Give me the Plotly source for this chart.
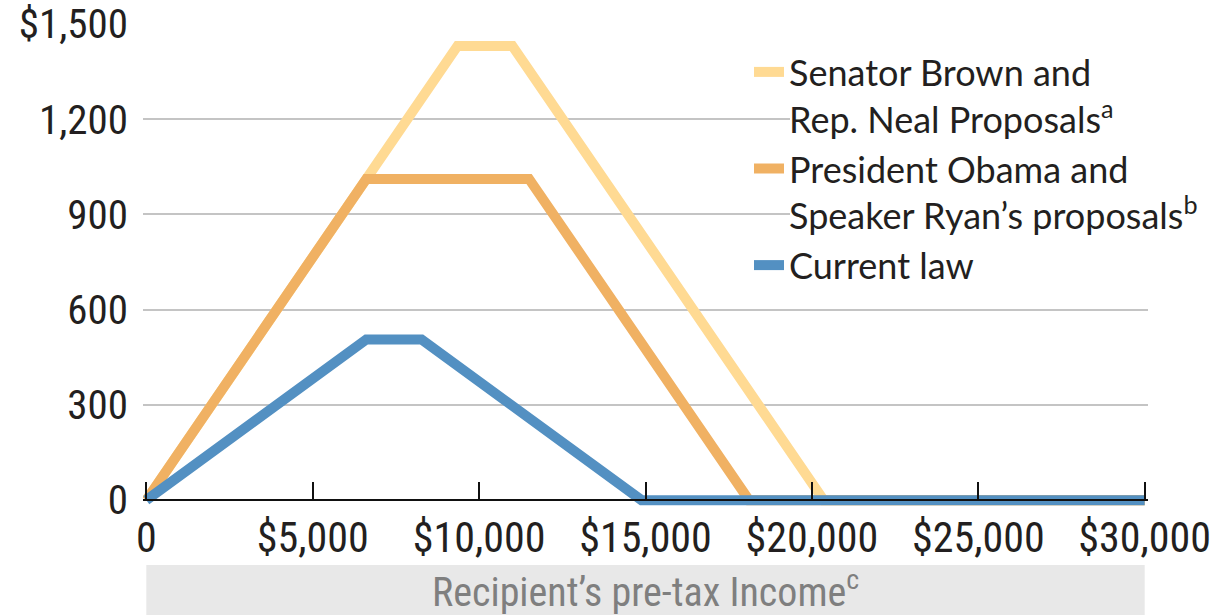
import plotly.graph_objects as go

# ---- data ----
series_names = [
    "Senator Brown and<br>Rep. Neal Proposals<sup>a</sup>",
    "President Obama and<br>Speaker Ryan’s proposals<sup>b</sup>",
    "Current law",
]
brown_income = [0, 9350, 11000, 20353, 30000]
brown_credit = [0, 1431, 1431, 0, 0]
obama_income = [0, 6610, 11500, 18110, 30000]
obama_credit = [0, 1012, 1012, 0, 0]
current_income = [0, 6610, 8270, 14880, 30000]
current_credit = [0, 506, 506, 0, 0]

x_tickvals = [0, 5000, 10000, 15000, 20000, 25000, 30000]
x_ticktext = ["0", "$5,000", "$10,000", "$15,000", "$20,000", "$25,000", "$30,000"]
y_tickvals = [0, 300, 600, 900, 1200, 1500]
y_ticktext = ["0", "300", "600", "900", "1,200", "$1,500"]
x_title = "Recipient’s pre-tax Income<sup>c</sup>"

colors = ["#FFDA93", "#F0B163", "#5390C2"]

NARROW = "Roboto Condensed, Liberation Sans, sans-serif"
LEG = "Lato, Liberation Sans, sans-serif"

fig = go.Figure()
for name, xs, ys, c in zip(series_names,
                           [brown_income, obama_income, current_income],
                           [brown_credit, obama_credit, current_credit],
                           colors):
    fig.add_trace(go.Scatter(x=xs, y=ys, mode="lines", name=name,
                             line=dict(color=c, width=10)))

W, H = 1216, 615
l, r, t, b = 143, 68, 24, 99
PW = W - l - r
PH = H - t - b
yr = [-50, 1500]
x0_pos = 50 / 1550.0


def py(px):
    """pixel row -> paper y fraction"""
    return (H - b - px) / PH


def pxx(px):
    """pixel column -> paper x fraction"""
    return (px - l) / PW


fig.update_layout(
    width=W, height=H,
    margin=dict(l=l, r=r, t=t, b=b, pad=0, autoexpand=False),
    plot_bgcolor="white", paper_bgcolor="white",
    showlegend=True,
    legend=dict(
        x=pxx(749), y=py(42), xanchor="left", yanchor="top",
        bgcolor="rgba(0,0,0,0)",
        font=dict(family=LEG, size=36, color="#231F20"),
        valign="top", traceorder="normal",
        itemwidth=30, tracegroupgap=0,
    ),
    xaxis=dict(
        range=[-100, 30100], automargin=False,
        tickvals=x_tickvals, ticktext=x_ticktext,
        ticks="inside", ticklen=17, tickwidth=2, tickcolor="#111111",
        showline=True, linecolor="#111111", linewidth=2,
        showgrid=False, zeroline=False,
        anchor="free", position=x0_pos,
        tickfont=dict(family=NARROW, size=42, color="#231F20"),
    ),
    yaxis=dict(
        range=yr, automargin=False,
        tickvals=y_tickvals, ticktext=y_ticktext,
        ticks="", showline=False, zeroline=False,
        showgrid=True, gridcolor="#C4C4C4", gridwidth=2,
        ticklabelstandoff=14,
        tickfont=dict(family=NARROW, size=41, color="#231F20"),
    ),
    shapes=[
        # white panel behind the legend text, as in the reference
        dict(type="rect", xref="paper", yref="paper",
             x0=pxx(790), x1=1.02, y0=py(292), y1=py(48),
             fillcolor="white", line=dict(width=0), layer="above"),
        # grey band for the x-axis title
        dict(type="rect", xref="x", yref="paper",
             x0=0, x1=30000, y0=py(615), y1=py(565),
             fillcolor="#E8E8E8", line=dict(width=0), layer="above"),
    ],
    annotations=[
        dict(text=x_title, xref="x", yref="paper",
             x=15000, y=py(589),
             xanchor="center", yanchor="middle", showarrow=False,
             font=dict(family=NARROW, size=40, color="#7F7F7F")),
    ],
)

fig.write_html("out.html",
               config={"displayModeBar": False},
               post_script="document.body.style.margin='0';document.body.style.overflow='hidden';")
